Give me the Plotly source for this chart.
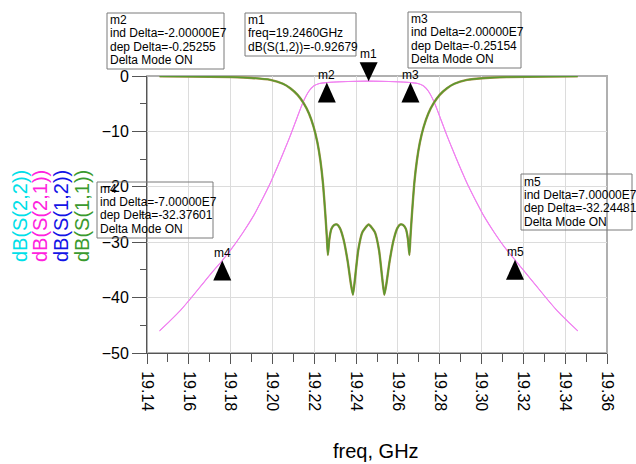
import plotly.graph_objects as go

W, H = 636, 464
ML, MR, MT, MB = 147, 29, 76, 111
PW = W - ML - MR
PH = H - MT - MB
FONT = "Liberation Sans, Arial, sans-serif"

# ---------------- data ----------------
freq_s11 = [19.146, 19.160, 19.180, 19.190, 19.199, 19.205, 19.2085, 19.212, 19.2149, 19.2175,
            19.2197, 19.2215, 19.2229, 19.2242, 19.2253, 19.2260, 19.2265, 19.2272, 19.2282, 19.2295,
            19.2308, 19.2322, 19.2340, 19.2360, 19.2375, 19.2385, 19.2395, 19.2410, 19.2430, 19.2460,
            19.2490, 19.2510, 19.2525, 19.2535, 19.2545, 19.2560, 19.2580, 19.2598, 19.2612, 19.2625,
            19.2638, 19.2648, 19.2655, 19.2660, 19.2667, 19.2678, 19.2691, 19.2705, 19.2723, 19.2745,
            19.2771, 19.2800, 19.2835, 19.2870, 19.2930, 19.3020, 19.3120, 19.3320, 19.3460]
db_s11 = [-0.05, -0.08, -0.2, -0.35, -0.7, -1.4, -2.2, -3.4, -4.9, -6.8,
          -9.2, -12.0, -15.2, -19.5, -25.0, -29.0, -32.3, -29.5, -27.6, -26.9,
          -26.8, -27.4, -29.5, -33.5, -37.5, -39.5, -36.5, -31.5, -28.2, -26.8,
          -28.2, -31.5, -36.5, -39.5, -37.5, -33.5, -29.5, -27.4, -26.8, -26.9,
          -27.6, -29.5, -32.3, -29.0, -25.0, -19.5, -15.2, -12.0, -9.2, -6.8,
          -4.9, -3.4, -2.2, -1.4, -0.7, -0.35, -0.2, -0.08, -0.05]

freq_s21 = [19.146, 19.151, 19.156, 19.161, 19.166, 19.171, 19.176, 19.181, 19.186, 19.191,
            19.193, 19.196, 19.199, 19.2025, 19.2057, 19.2085, 19.2115, 19.2149, 19.2175, 19.2197,
            19.2225, 19.226, 19.236, 19.246, 19.256, 19.266, 19.2695, 19.2723, 19.2745, 19.2771,
            19.2805, 19.2835, 19.2863, 19.2895, 19.293, 19.296, 19.299, 19.301, 19.306, 19.311,
            19.316, 19.321, 19.326, 19.331, 19.336, 19.341, 19.346]
db_s21 = [-46.0, -44.2, -42.3, -40.1, -37.8, -35.5, -33.3, -30.9, -28.2, -25.2,
          -23.8, -21.6, -19.3, -16.3, -13.4, -10.8, -7.8, -4.5, -2.7, -1.8,
          -1.35, -1.18, -1.0, -0.93, -1.0, -1.18, -1.35, -1.8, -2.7, -4.5,
          -7.8, -10.8, -13.4, -16.3, -19.3, -21.6, -23.8, -25.2, -28.2, -30.9,
          -33.2, -35.5, -37.8, -40.1, -42.3, -44.2, -46.0]

# symmetric filter: S22 == S11, S12 == S21
freq_s22, db_s22 = freq_s11, db_s11
freq_s12, db_s12 = freq_s21, db_s21

x_ticks = [19.14, 19.16, 19.18, 19.20, 19.22, 19.24, 19.26, 19.28, 19.30, 19.32, 19.34, 19.36]
y_ticks = [0, -10, -20, -30, -40, -50]
X_RANGE = [19.14, 19.36]
Y_RANGE = [-50, 0]

marker_names = ["m1", "m2", "m3", "m4", "m5"]
marker_freq = [19.246, 19.226, 19.266, 19.176, 19.316]
marker_db = [-0.92679, -1.17934, -1.17833, -33.30280, -33.17160]
marker_down = [True, False, False, False, False]

box_texts = [
    ["m2", "ind Delta=-2.00000E7", "dep Delta=-0.25255", "Delta Mode ON"],
    ["m1", "freq=19.2460GHz", "dB(S(1,2))=-0.92679"],
    ["m3", "ind Delta=2.00000E7", "dep Delta=-0.25154", "Delta Mode ON"],
    ["m4", "ind Delta=-7.00000E7", "dep Delta=-32.37601", "Delta Mode ON"],
    ["m5", "ind Delta=7.00000E7", "dep Delta=-32.24481", "Delta Mode ON"],
]
# box geometry in pixels: left, top, right, bottom, first line centre
box_geom = [
    (107, 13, 224, 69, 20),
    (245, 13, 356, 56, 20),
    (408, 12, 521, 68, 19),
    (97, 182, 213, 238, 188.5),
    (521, 174, 632, 230, 181.5),
]

ytitle_texts = ["dB(S(2,2))", "dB(S(2,1))", "dB(S(1,2))", "dB(S(1,1))"]
ytitle_colors = ["#00e0e8", "#ff22dd", "#1414e6", "#3a9a2e"]
ytitle_px = [20, 40, 61, 82]


def px2x(px):
    return (px - ML) / PW


def py2y(py):
    return (H - MB - py) / PH


def yval2paper(v):
    # position of a y-axis value as a fraction of the plot height
    return (v - Y_RANGE[0]) / (Y_RANGE[1] - Y_RANGE[0])


fig = go.Figure()
fig.add_trace(go.Scatter(x=freq_s12, y=db_s12, mode="lines", name="dB(S(1,2))",
                         line=dict(color="#f080f0", width=1, shape="spline", smoothing=0.8)))
fig.add_trace(go.Scatter(x=freq_s21, y=db_s21, mode="lines", name="dB(S(2,1))",
                         line=dict(color="#f080f0", width=1.1, shape="spline", smoothing=0.8)))
fig.add_trace(go.Scatter(x=freq_s22, y=db_s22, mode="lines", name="dB(S(2,2))",
                         line=dict(color="#a8904a", width=2.4, shape="spline", smoothing=0.5)))
fig.add_trace(go.Scatter(x=freq_s11, y=db_s11, mode="lines", name="dB(S(1,1))",
                         line=dict(color="#5a9a30", width=1.5, shape="spline", smoothing=0.5)))

shapes = []
annotations = []

# marker triangles and labels (yref paper so they are not clipped at the plot top)
for name, f, v, down in zip(marker_names, marker_freq, marker_db, marker_down):
    path = "M0,0 L-9,19 L9,19 Z" if down else "M0,0 L-9,-20 L9,-20 Z"
    shapes.append(dict(type="path", xref="x", yref="paper", xsizemode="pixel", ysizemode="pixel",
                       xanchor=f, yanchor=yval2paper(v), path=path, fillcolor="black",
                       line=dict(color="black", width=0), layer="above"))
    annotations.append(dict(x=f, y=v, xref="x", yref="y", text=name, showarrow=False,
                            xanchor="center", yanchor="bottom", yshift=(19 if down else 0) - 1,
                            font=dict(family=FONT, size=12, color="black")))

# marker readout boxes
for lines, (l, t, r, b, c0) in zip(box_texts, box_geom):
    shapes.append(dict(type="rect", xref="paper", yref="paper",
                       x0=px2x(l), x1=px2x(r), y0=py2y(b), y1=py2y(t),
                       line=dict(color="#7a7a7a", width=1), fillcolor="rgba(0,0,0,0)",
                       layer="above"))
    for i, txt in enumerate(lines):
        annotations.append(dict(x=px2x(l + 1), y=py2y(c0 + i * 13.4), xref="paper", yref="paper",
                                text=txt, showarrow=False, xanchor="left", yanchor="middle",
                                font=dict(family=FONT, size=12, color="black")))

# frame (top / right)
shapes.append(dict(type="rect", xref="paper", yref="paper", x0=0, x1=1, y0=0, y1=1,
                   line=dict(color="#b0b0b0", width=2), layer="below"))

# y axis titles
for txt, col, px in zip(ytitle_texts, ytitle_colors, ytitle_px):
    annotations.append(dict(x=px2x(px), y=py2y(216), xref="paper", yref="paper", text=txt,
                            showarrow=False, textangle=-90, xanchor="center", yanchor="middle",
                            font=dict(family=FONT, size=20, color=col)))

# x axis title
annotations.append(dict(x=px2x(376), y=py2y(451), xref="paper", yref="paper", text="freq, GHz",
                        showarrow=False, xanchor="center", yanchor="middle",
                        font=dict(family=FONT, size=20, color="black")))

fig.update_layout(
    width=W, height=H,
    margin=dict(l=ML, r=MR, t=MT, b=MB, pad=0),
    paper_bgcolor="white", plot_bgcolor="white",
    showlegend=False,
    shapes=shapes,
    annotations=annotations,
    font=dict(family=FONT, size=16, color="black"),
)
fig.update_xaxes(
    range=X_RANGE, tickvals=x_ticks, ticktext=[f"{v:.2f}" for v in x_ticks],
    tickangle=90, ticks="outside", ticklen=10, tickcolor="#555555", ticklabelstandoff=4,
    showline=True, linecolor="#555555", linewidth=1,
    showgrid=True, gridcolor="#dcdcdc", gridwidth=1, zeroline=False,
    tickfont=dict(family=FONT, size=16, color="black"),
    minor=dict(dtick=0.01, tick0=19.14, ticks="outside", ticklen=8, tickcolor="#555555", showgrid=False),
)
fig.update_yaxes(
    range=Y_RANGE, tickvals=y_ticks, ticks="outside", ticklen=14, tickcolor="#555555",
    showline=True, linecolor="#555555", linewidth=1,
    showgrid=True, gridcolor="#dcdcdc", gridwidth=1, zeroline=False,
    tickfont=dict(family=FONT, size=16, color="black"),
    minor=dict(dtick=5, tick0=0, ticks="outside", ticklen=6, tickcolor="#555555", showgrid=False),
)

fig.write_html("out.html")
